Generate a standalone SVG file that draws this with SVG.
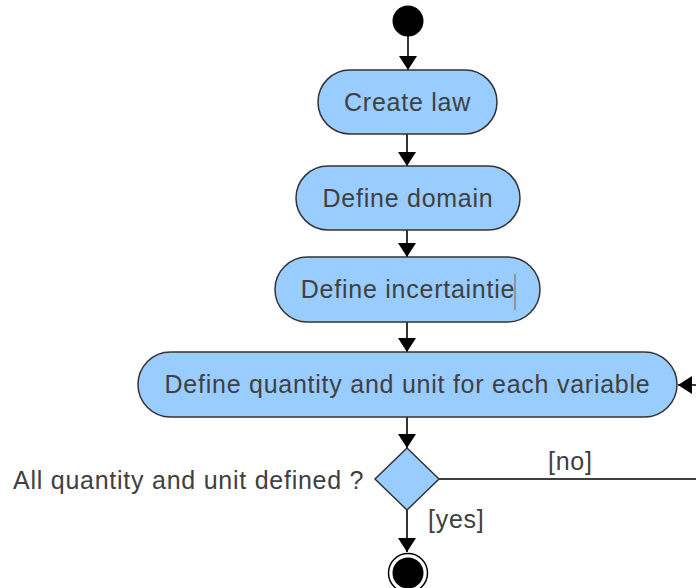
<svg xmlns="http://www.w3.org/2000/svg" width="696" height="588" viewBox="0 0 696 588">
<defs>
<style>
.act{fill:#99ccff;stroke:#333333;stroke-width:1.5}
.lbl{font-family:"Liberation Sans",Arial,sans-serif;font-size:25px;fill:#404040;letter-spacing:0.75px}
.c{text-anchor:middle}
.edge{fill:none;stroke:#000;stroke-width:1.6}
</style>
<marker id="ah" markerWidth="16" markerHeight="20" refX="14" refY="10" orient="auto" markerUnits="userSpaceOnUse">
<path d="M0,1 L14,10 L0,19 Z" fill="#000"/>
</marker>
</defs>
<rect width="696" height="588" fill="#ffffff"/>
<g id="connectors">
<line class="edge" x1="408" y1="36" x2="408" y2="70" marker-end="url(#ah)"/>
<line class="edge" x1="407" y1="134" x2="407" y2="166" marker-end="url(#ah)"/>
<line class="edge" x1="407" y1="230" x2="407" y2="257" marker-end="url(#ah)"/>
<line class="edge" x1="407" y1="322" x2="407" y2="352" marker-end="url(#ah)"/>
<line class="edge" x1="407" y1="417" x2="407" y2="448" marker-end="url(#ah)"/>
<line class="edge" x1="407" y1="510" x2="407" y2="552" marker-end="url(#ah)"/>
<path class="edge" d="M439,479 L720,479 L720,385 L678,385" marker-end="url(#ah)"/>
<text class="lbl" x="548" y="470">[no]</text>
<text class="lbl" x="428" y="528">[yes]</text>
</g>
<g id="start"><circle cx="408" cy="21" r="15.5" fill="#000"/></g>
<g id="create-law">
<rect class="act" x="318" y="70" width="179" height="64" rx="32"/>
<text class="lbl c" x="407.5" y="111">Create law</text>
</g>
<g id="define-domain">
<rect class="act" x="296" y="166" width="224" height="64" rx="32"/>
<text class="lbl c" x="408" y="207">Define domain</text>
</g>
<g id="define-incertaintie">
<rect class="act" x="275" y="257" width="265" height="65" rx="32.5"/>
<text class="lbl c" x="408" y="298">Define incertaintie</text>
<line x1="515" y1="274" x2="515" y2="310" stroke="#8b5a2b" stroke-width="1"/>
</g>
<g id="define-quantity">
<rect class="act" x="138" y="352" width="539" height="65" rx="32.5"/>
<text class="lbl c" x="407.5" y="393">Define quantity and unit for each variable</text>
</g>
<g id="decision">
<polygon class="act" points="407,448 439,479 407,510 375,479"/>
<text class="lbl" x="13" y="489">All quantity and unit defined ?</text>
</g>
<g id="end">
<circle cx="408" cy="573" r="19.5" fill="#fff" stroke="#000" stroke-width="1.5"/>
<circle cx="408" cy="573" r="15.5" fill="#000"/>
</g>
</svg>
